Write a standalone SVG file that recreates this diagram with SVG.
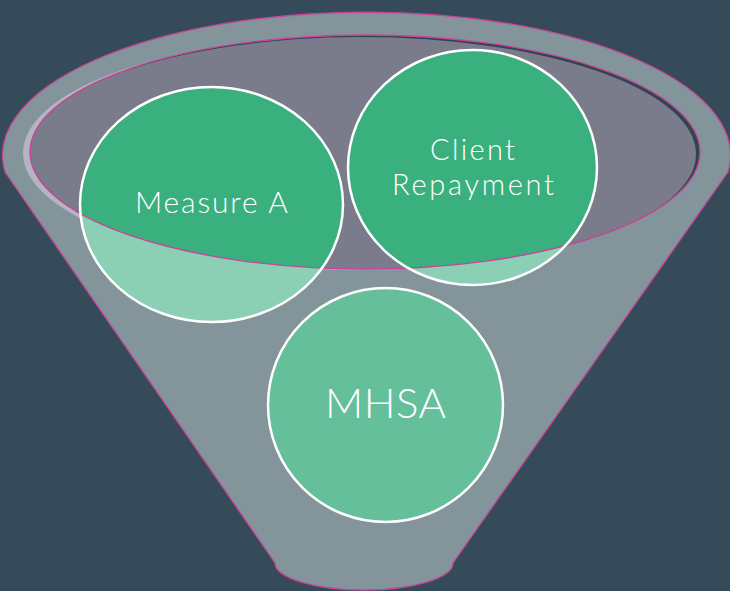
<svg xmlns="http://www.w3.org/2000/svg" width="730" height="591" viewBox="0 0 730 591">
  <style>
    .outline { stroke: #c9449a; stroke-width: 1.3; }
    .ring { fill: none; stroke: #ffffff; stroke-width: 2.5; }
    .label { font-family: Lato, "Open Sans", "Liberation Sans", sans-serif; font-weight: 300; fill: #ffffff; text-anchor: middle; }
  </style>
  <defs>
    <clipPath id="mouth">
      <ellipse cx="365" cy="152" rx="335" ry="117"/>
    </clipPath>
  </defs>

  <!-- backdrop -->
  <rect x="0" y="0" width="730" height="591" fill="#354b59"/>

  <!-- funnel body -->
  <path class="outline" fill="#83949b" d="M 5,172 A 364 143 0 1 1 728,172 L 453,563 A 89 27 0 0 1 275,563 Z"/>

  <!-- funnel mouth with bevel -->
  <ellipse cx="359" cy="153" rx="336" ry="117" fill="#b3b4c4"/>
  <ellipse cx="365" cy="152" rx="335" ry="117" fill="#2f4552"/>
  <ellipse cx="361" cy="154" rx="335" ry="117" fill="#7a7b8b" clip-path="url(#mouth)"/>

  <!-- sources -->
  <g id="measure-a">
    <ellipse cx="211.5" cy="204.5" rx="131.5" ry="117.5" fill="#8bcfb5"/>
    <ellipse cx="211.5" cy="204.5" rx="131.5" ry="117.5" fill="#3bb07f" clip-path="url(#mouth)"/>
  </g>
  <g id="client-repayment">
    <ellipse cx="472.5" cy="167.5" rx="124.5" ry="117.5" fill="#8bcfb5"/>
    <ellipse cx="472.5" cy="167.5" rx="124.5" ry="117.5" fill="#3bb07f" clip-path="url(#mouth)"/>
  </g>

  <!-- rim line of the mouth -->
  <ellipse class="outline" cx="365" cy="152" rx="335" ry="117" fill="none"/>

  <g id="measure-a-label">
    <ellipse class="ring" cx="211.5" cy="204.5" rx="131.5" ry="117.5"/>
    <text class="label" x="211.5" y="213" font-size="30" textLength="153" lengthAdjust="spacing">Measure A</text>
  </g>
  <g id="client-repayment-label">
    <ellipse class="ring" cx="472.5" cy="167.5" rx="124.5" ry="117.5"/>
    <text class="label" x="472.5" y="160" font-size="29" textLength="85" lengthAdjust="spacing">Client</text>
    <text class="label" x="473" y="195" font-size="29" textLength="162" lengthAdjust="spacing">Repayment</text>
  </g>

  <g id="mhsa">
    <ellipse cx="385.5" cy="405" rx="117.5" ry="117" fill="#65bf9b"/>
    <ellipse class="ring" cx="385.5" cy="405" rx="117.5" ry="117"/>
    <text class="label" x="385.5" y="418" font-size="42" textLength="121" lengthAdjust="spacing">MHSA</text>
  </g>
</svg>
